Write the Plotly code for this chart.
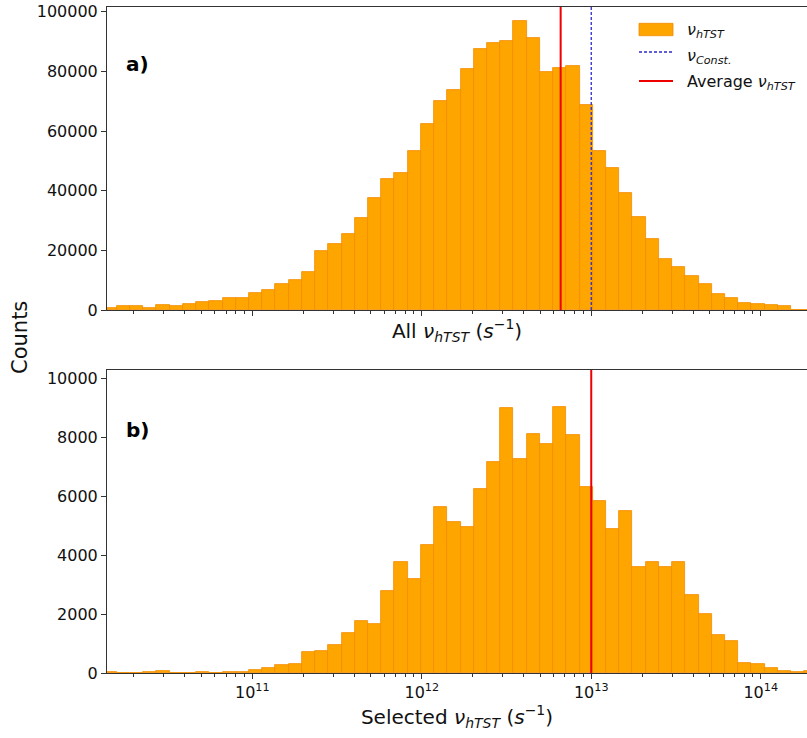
import numpy as np
import plotly.graph_objects as go

# ---------------- data ----------------
# histogram bins are equally spaced in log10(nu)
bin_start_log10 = 10.123
bin_width_log10 = 0.078

counts_all = [600, 1300, 1300, 700, 1600, 1300, 2150, 2700, 2900, 3900,
              3900, 5600, 6700, 8600, 10000, 12700, 19900, 22100, 25500, 30800,
              37500, 43900, 45800, 53300, 62400, 70000, 73900, 80900, 87600, 89500,
              90200, 96800, 91300, 79800, 81200, 81700, 68600, 53400, 47700, 39400,
              31300, 23700, 17200, 14500, 11400, 8600, 5400, 3900, 2200, 1900,
              1700, 1300, 0, 0]

counts_selected = [30, 10, 10, 20, 80, 15, 15, 50, 15, 25,
                   40, 85, 156, 260, 315, 700, 735, 960, 1355, 1750,
                   1670, 2790, 3760, 3200, 4350, 5630, 5140, 4950, 6250, 7170,
                   8980, 7250, 8120, 7760, 9040, 8070, 6300, 5820, 4890, 5510,
                   3580, 3780, 3600, 3780, 2650, 2010, 1300, 1070, 340, 305,
                   170, 78, 40, 60]

avg_all_nu = 6.6e12
nu_const = 1.0e13
avg_selected_nu = 1.0e13

x_major_ticks = [1e11, 1e12, 1e13, 1e14]
x_tick_labels = ["10<sup>11</sup>", "10<sup>12</sup>", "10<sup>13</sup>", "10<sup>14</sup>"]
y_ticks_all = [0, 20000, 40000, 60000, 80000, 100000]
y_ticks_sel = [0, 2000, 4000, 6000, 8000, 10000]

# ---------------- figure geometry ----------------
W, H = 807, 738
L, R, T, B = 107, 0, 7, 65


def px(xp):
    return (xp - L) / (W - L - R)


def py(yp):
    return (H - B - yp) / (H - T - B)


FONT = "DejaVu Sans"
ORANGE = "#FFA500"
EDGE = "#F28C00"
AX = "#333333"
BLUE = "#2a2ad0"
RED = "#ee0000"

left_edges = bin_start_log10 + bin_width_log10 * np.arange(len(counts_all))
centers = left_edges + bin_width_log10 / 2

fig = go.Figure()
fig.add_trace(go.Bar(x=centers, y=counts_all, width=bin_width_log10,
                     marker=dict(color=ORANGE, line=dict(color=EDGE, width=0.8)),
                     xaxis="x", yaxis="y", showlegend=False, name="nu_hTST"))
fig.add_trace(go.Bar(x=centers, y=counts_selected, width=bin_width_log10,
                     marker=dict(color=ORANGE, line=dict(color=EDGE, width=0.8)),
                     xaxis="x2", yaxis="y2", showlegend=False, name="selected"))

major_log = [float(np.log10(v)) for v in x_major_ticks]
minor_log = [float(np.log10(m * 10.0 ** d)) for d in range(10, 15) for m in range(2, 10)]
x_range = [10.143, 14.273]

xcommon = dict(range=x_range, showline=True, linecolor=AX, linewidth=1, mirror=True,
               ticks="outside", ticklen=5, tickcolor=AX, tickwidth=1, automargin=False,
               tickvals=major_log, showgrid=False, zeroline=False,
               minor=dict(tickvals=minor_log, ticks="outside", ticklen=3, tickcolor=AX, tickwidth=0.8),
               tickfont=dict(family=FONT, size=16, color="#111"))
ycommon = dict(showline=True, linecolor=AX, linewidth=1, ticks="outside", ticklen=5,
               tickcolor=AX, showgrid=False, zeroline=False, automargin=False,
               tickformat="d",
               tickfont=dict(family=FONT, size=16, color="#111"))

fig.update_layout(
    width=W, height=H, margin=dict(l=L, r=R, t=T, b=B, autoexpand=False),
    plot_bgcolor="white", paper_bgcolor="white", bargap=0,
    font=dict(family=FONT, color="#111"),
    xaxis=dict(**xcommon, anchor="y", domain=[0, 1], matches="x2", showticklabels=False,
               title=dict(text="All <i>ν</i><sub><i>hTST</i></sub> (<i>s</i><sup>−1</sup>)",
                          font=dict(family=FONT, size=20), standoff=8)),
    yaxis=dict(**ycommon, domain=[py(310), 1], range=[0, 101600], tickvals=y_ticks_all),
    xaxis2=dict(**xcommon, anchor="y2", domain=[0, 1], ticktext=x_tick_labels,
                title=dict(text="Selected <i>ν</i><sub><i>hTST</i></sub> (<i>s</i><sup>−1</sup>)",
                           font=dict(family=FONT, size=20), standoff=8)),
    yaxis2=dict(**ycommon, domain=[0, py(370)], range=[0, 10280], tickvals=y_ticks_sel),
)

# vertical reference lines
fig.add_shape(type="line", xref="x", yref="y domain", x0=np.log10(nu_const), x1=np.log10(nu_const),
              y0=0, y1=1, line=dict(color=BLUE, width=1.3, dash="3px,2px"))
fig.add_shape(type="line", xref="x", yref="y domain", x0=np.log10(avg_all_nu), x1=np.log10(avg_all_nu),
              y0=0, y1=1, line=dict(color=RED, width=2))
fig.add_shape(type="line", xref="x2", yref="y2 domain", x0=np.log10(avg_selected_nu), x1=np.log10(avg_selected_nu),
              y0=0, y1=1, line=dict(color=RED, width=2))

# panel labels
fig.add_annotation(text="<b>a)</b>", xref="paper", yref="paper", x=px(124), y=py(64),
                   xanchor="left", yanchor="middle", showarrow=False,
                   font=dict(family=FONT, size=20, color="black"))
fig.add_annotation(text="<b>b)</b>", xref="paper", yref="paper", x=px(124), y=py(430),
                   xanchor="left", yanchor="middle", showarrow=False,
                   font=dict(family=FONT, size=20, color="black"))

# shared y title
fig.add_annotation(text="Counts", xref="paper", yref="paper", x=px(20), y=py(338),
                   xanchor="center", yanchor="middle", textangle=-90, showarrow=False,
                   font=dict(family=FONT, size=21, color="#111"))

# manual legend (top panel)
fig.add_shape(type="rect", xref="paper", yref="paper", x0=px(639), x1=px(673), y0=py(35.7), y1=py(23.3),
              fillcolor=ORANGE, line=dict(color=EDGE, width=0.8))
fig.add_shape(type="line", xref="paper", yref="paper", x0=px(639), x1=px(673), y0=py(52), y1=py(52),
              line=dict(color=BLUE, width=1.3, dash="3px,2px"))
fig.add_shape(type="line", xref="paper", yref="paper", x0=px(639), x1=px(673), y0=py(81), y1=py(81),
              line=dict(color=RED, width=2))
legend_texts = ["<i>ν</i><sub><i>hTST</i></sub>", "<i>ν</i><sub><i>Const.</i></sub>",
                "Average <i>ν</i><sub><i>hTST</i></sub>"]
for txt, yy in zip(legend_texts, [31, 57, 83]):
    fig.add_annotation(text=txt, xref="paper", yref="paper", x=px(685), y=py(yy),
                       xanchor="left", yanchor="middle", showarrow=False,
                       font=dict(family=FONT, size=16, color="#111"))

fig.write_html("out.html", config={"displayModeBar": False},
               post_script="document.body.style.margin='0';document.body.style.padding='0';")
